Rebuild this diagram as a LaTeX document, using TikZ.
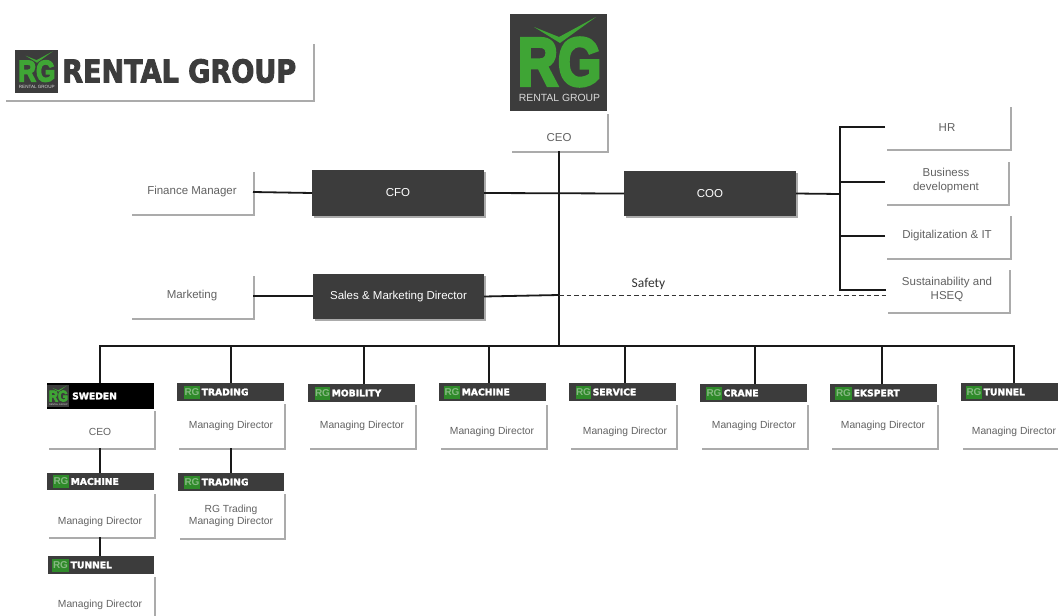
\documentclass[tikz,border=0pt]{standalone}
\usepackage{fontspec}
\setmainfont{Liberation Sans}
\newfontfamily\tagfont[FakeBold=2.5]{DejaVu Sans Bold}
\newfontfamily\brandfont[FakeBold=3]{DejaVu Sans Bold}
\newfontfamily\safetyfont{Carlito}
\newfontfamily\heavyfont[FakeBold=5]{Liberation Sans Bold}
\usetikzlibrary{shadows,calc}
\definecolor{rgdark}{HTML}{3C3C3C}
\definecolor{rggreen}{HTML}{3FA535}
\definecolor{rgtext}{HTML}{626262}
\definecolor{rgshadow}{HTML}{ABABAB}
\definecolor{rgtaggreen}{HTML}{2F8A2A}
\definecolor{rgtagtext}{HTML}{86B882}
\tikzset{
  boxbase/.style={rectangle,inner sep=0pt,outer sep=0pt,line width=0pt},
  cardbox/.style={boxbase,fill=white,drop shadow={shadow xshift=1.6pt,shadow yshift=-1.6pt,fill=rgshadow,opacity=1}},
  darkbox/.style={boxbase,fill=rgdark,text=white,font=\fontsize{11.5}{13}\selectfont,drop shadow={shadow xshift=1.5pt,shadow yshift=-1.5pt,fill=rgshadow,opacity=1}},
  cardtext/.style={inner sep=0pt,yshift=-1pt,text=rgtext,align=center,font=\fontsize{10.3}{12.5}\selectfont},
  uppertext/.style={inner sep=0pt,yshift=-1pt,text=rgtext,align=center,font=\fontsize{11.5}{14}\selectfont},
  tagbox/.style={boxbase,fill=rgdark},
  tagtext/.style={inner sep=0pt,anchor=west,text=white,font=\tagfont\fontsize{9.2}{10}\selectfont},
  taglogo/.style={boxbase,fill=rgtaggreen,text=rgtagtext,font=\bfseries\fontsize{10}{10}\selectfont},
  link/.style={draw=black!90,line width=1.8pt},
}
% [text style], name, x0, y0, x1, y1, text x, text y, text
\newcommand{\cardnode}[9][cardtext]{%
  \node[cardbox,minimum width={(#5-#3)*1pt},minimum height={(#6-#4)*1pt}] (#2) at ({(#3+#5)/2},{(#4+#6)/2}) {};
  \node[#1] (#2t) at (#7,#8) {#9};
}
% name, x0, y0, x1, y1, text
\newcommand{\darknode}[6]{%
  \node[darkbox,minimum width={(#4-#2)*1pt},minimum height={(#5-#3)*1pt}] (#1) at ({(#2+#4)/2},{(#3+#5)/2}) {#6};
}
% name, x0, y0, x1, y1, logo x0, logo x1, text
\newcommand{\tagbar}[8]{%
  \node[tagbox,minimum width={(#4-#2)*1pt},minimum height={(#5-#3)*1pt}] (#1) at ({(#2+#4)/2},{(#3+#5)/2}) {};
  \node[taglogo,minimum width={(#7-#6)*1pt},minimum height=13pt] (#1l) at ({(#6+#7)/2},{(#3+#5)/2}) {RG};
  \node[tagtext] (#1t) at ({#7+1.5},{(#3+#5)/2}) {#8};
}
% name, x, y, scale
\newcommand{\rglogo}[4]{%
  \begin{scope}[shift={(#2,#3)},scale=#4,transform shape]
    \node[boxbase,fill=rgdark,minimum width=97pt,minimum height=97pt] (#1) at (48.5,48.5) {};
    \fill[rggreen] (24,13) -- (49,23) -- (86,3) -- (50,29) -- cycle;
    \node[inner sep=0pt,text=rggreen,font=\heavyfont\fontsize{68}{68}\selectfont] (#1g) at (49.5,48) {\scalebox{.82}[1]{RG}};
    \node[inner sep=0pt,text=black!15,font=\fontsize{10.4}{11}\selectfont] (#1r) at (49.5,84) {RENTAL GROUP};
  \end{scope}
}
\begin{document}
\begin{tikzpicture}[x=1pt,y=-1pt]
\clip (0,0) rectangle (1058,616);
\fill[white] (0,0) rectangle (1058,616);

% brand card
\node[cardbox,minimum width=309pt,minimum height=58pt] (brand) at (158.5,71) {};
\rglogo{smalllogo}{15}{50}{0.44}
\node[inner sep=0pt,anchor=west,text=rgdark,font=\brandfont\fontsize{31.5}{32}\selectfont] (brandname) at (62,71) {\scalebox{.86}[1]{RENTAL GROUP}};

% CEO
\cardnode[uppertext]{ceo}{510}{112}{607}{151}{559}{137}{CEO}
\rglogo{biglogo}{510}{14}{1}

% upper row
\cardnode[uppertext]{fin}{130}{170}{253}{214}{192}{191}{Finance Manager}
\darknode{cfo}{312}{170}{484}{216}{CFO}
\darknode{coo}{624}{171}{796}{216}{COO}
\cardnode[uppertext]{hr}{885}{105}{1010}{149}{947}{127}{HR}
\cardnode[uppertext]{biz}{885}{160}{1008}{204}{946}{180}{Business\\development}
\cardnode[uppertext]{dig}{885}{214}{1010}{258}{947}{235}{Digitalization \& IT}
\cardnode[uppertext]{sus}{886}{268}{1009}{312}{947}{288}{Sustainability and\\HSEQ}

% second row
\cardnode[uppertext]{mkt}{130}{274}{253}{318}{192}{295}{Marketing}
\darknode{sales}{313}{274}{484}{319}{Sales \& Marketing Director}

% companies
\tagbar{tunnelr}{961}{383}{1058}{401}{966}{982}{TUNNEL}
\cardnode{tunnelrc}{961}{403}{1058}{448}{1014}{431}{Managing Director}
\node[boxbase,fill=black,minimum width=107pt,minimum height=26pt] (swe) at (100.5,396) {};
\rglogo{swelogo}{47}{385}{0.23}
\node[tagtext] (swet) at (72,396) {SWEDEN};
\cardnode{swec}{47}{409}{154}{448}{100}{431}{CEO}
\tagbar{mach}{47}{473}{154}{490}{53}{69}{MACHINE}
\cardnode{machc}{47}{492}{154}{537}{100}{521}{Managing Director}
\tagbar{tun}{48}{556}{154}{574}{52}{69}{TUNNEL}
\cardnode{tunc}{47}{575}{154}{616}{100}{604}{Managing Director}
\tagbar{tra}{177}{383}{284}{401}{184}{200}{TRADING}
\cardnode{trac}{177}{402}{284}{448}{231}{425}{Managing Director}
\tagbar{trb}{178}{473}{284}{491}{184}{200}{TRADING}
\cardnode{trbc}{178}{492}{284}{538}{231}{515}{RG Trading\\Managing Director}
\tagbar{mob}{308}{384}{415}{402}{315}{330}{MOBILITY}
\cardnode{mobc}{308}{403}{415}{448}{362}{425}{Managing Director}
\tagbar{mac}{439}{383}{546}{401}{444}{460}{MACHINE}
\cardnode{macc}{439}{403}{546}{448}{492}{431}{Managing Director}
\tagbar{ser}{569}{383}{676}{401}{576}{591}{SERVICE}
\cardnode{serc}{569}{403}{676}{448}{625}{431}{Managing Director}
\tagbar{cra}{700}{384}{807}{402}{706}{722}{CRANE}
\cardnode{crac}{700}{403}{807}{448}{754}{425}{Managing Director}
\tagbar{eks}{830}{384}{937}{402}{835}{852}{EKSPERT}
\cardnode{eksc}{830}{403}{937}{448}{883}{425}{Managing Director}

% connector points
\coordinate (bus) at (559,346);
\coordinate (br) at (840,194);
\coordinate (dashstart) at (559,295);
\coordinate (d1) at (100,346);
\coordinate (d2) at (231,346);
\coordinate (d3) at (364,346);
\coordinate (d4) at (489,346);
\coordinate (d5) at (625,346);
\coordinate (d6) at (755,346);
\coordinate (d7) at (882,346);
\coordinate (d8) at (1014,346);

% connectors
\draw[link] (bus |- ceo.south) -- (bus);
\draw[link,line cap=rect] (d1) -- (d8);
\draw[link] (d1) -- (d1 |- swe.north);
\draw[link] (d2) -- (d2 |- tra.north);
\draw[link] (d3) -- (d3 |- mob.north);
\draw[link] (d4) -- (d4 |- mac.north);
\draw[link] (d5) -- (d5 |- ser.north);
\draw[link] (d6) -- (d6 |- cra.north);
\draw[link] (d7) -- (d7 |- eks.north);
\draw[link] (d8) -- (d8 |- tunnelr.north);
\draw[link] (d1 |- swec.south) -- (d1 |- mach.north);
\draw[link] (d1 |- machc.south) -- (d1 |- tun.north);
\draw[link] (d2 |- trac.south) -- (d2 |- trb.north);
\draw[link] (fin.east) -- (cfo.west);
\draw[link] (cfo.east) -- (coo.west);
\draw[link] (mkt.east) -- (sales.west |- mkt.east);
\draw[link] (sales.east) -- (dashstart);
\draw[link] (coo.east) -- (br);
\draw[link] (hr.west) -| (br);
\draw[link] (biz.west) -| (br);
\draw[link] (dig.west) -| (br);
\draw[link] (sus.west) -| (br);
\draw[draw=black!80,line width=0.8pt,dash pattern=on 4.5pt off 3pt] (dashstart) -- (dashstart -| sus.west);
\node[inner sep=0pt,text=black!80,font=\safetyfont\fontsize{13.5}{14}\selectfont] (safety) at (648.5,284) {Safety};
\end{tikzpicture}
\end{document}
